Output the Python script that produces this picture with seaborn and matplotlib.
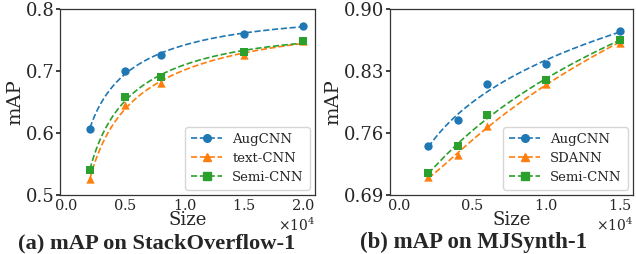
import numpy as np
import pandas as pd
import matplotlib
matplotlib.use('Agg')
import matplotlib.pyplot as plt
import seaborn as sns
from matplotlib.lines import Line2D
from matplotlib.ticker import ScalarFormatter

# (a) StackOverflow-1
so_size = [2000, 5000, 8000, 15000, 20000]
so_aug = [0.607, 0.700, 0.725, 0.760, 0.773]
so_text = [0.525, 0.645, 0.680, 0.725, 0.748]
so_semi = [0.540, 0.658, 0.690, 0.730, 0.748]

# (b) MJSynth-1
mj_size = [2000, 4000, 6000, 10000, 15000]
mj_aug = [0.745, 0.775, 0.815, 0.838, 0.875]
mj_sdann = [0.710, 0.735, 0.768, 0.815, 0.862]
mj_semi = [0.715, 0.745, 0.780, 0.820, 0.865]

colors = ['#1f77b4', '#ff7f0e', '#2ca02c']
markers = ['o', '^', 's']

sns.set_theme(style='white')
plt.rcParams['font.family'] = ['DejaVu Serif']
plt.rcParams['mathtext.fontset'] = 'dejavuserif'


def draw(ax, sizes, series, names, xlim, ylim, yticks, title, tx, tsize):
    for (vals, name, c, m) in zip(series, names, colors, markers):
        x = np.array(sizes, dtype=float)
        # smooth trend through the points (quadratic in log size)
        coef = np.polyfit(np.log(x), vals, 2)
        xs = np.linspace(x.min(), x.max(), 200)
        fit = pd.DataFrame({'x': xs, 'y': np.polyval(coef, np.log(xs))})
        sns.lineplot(data=fit, x='x', y='y', ax=ax, color=c, lw=1.2,
                     linestyle='--')
        pts = pd.DataFrame({'x': sizes, 'y': vals})
        sns.scatterplot(data=pts, x='x', y='y', ax=ax, color=c, marker=m,
                        s=36, edgecolor=c, linewidth=0, zorder=3)
    ax.set_xlim(*xlim)
    ax.set_ylim(*ylim)
    ax.set_yticks(yticks)
    ax.set_xlabel('Size', fontsize=13, labelpad=-1)
    ax.set_ylabel('mAP', fontsize=14, labelpad=1)
    ax.tick_params(axis='y', labelsize=13, length=3, left=True, pad=1)
    ax.tick_params(axis='x', labelsize=10.5, length=0, bottom=True, pad=2)
    fmt = ScalarFormatter(useMathText=True)
    fmt.set_powerlimits((0, 0))
    ax.xaxis.set_major_formatter(fmt)
    ax.xaxis.get_offset_text().set_fontsize(10)
    for sp in ax.spines.values():
        sp.set_color('#333333')
        sp.set_linewidth(0.9)
    handles = [Line2D([], [], color=c, marker=m, linestyle='--',
                      lw=1.2, markersize=5.5) for c, m in zip(colors, markers)]
    ax.legend(handles, names, loc='lower right', fontsize=9.5,
              frameon=True, edgecolor='#cccccc', fancybox=True,
              handlelength=2.3, borderpad=0.45, labelspacing=0.45,
              borderaxespad=0.4)
    ax.figure.text(tx, 0.022, title, ha='center', va='baseline',
                   fontsize=tsize, fontweight='bold',
                   family=['Liberation Serif', 'DejaVu Serif'])


fig = plt.figure(figsize=(6.36, 2.54), dpi=100)
ax1 = fig.add_axes([0.0943, 0.2323, 0.4009, 0.7323])
ax2 = fig.add_axes([0.6132, 0.2323, 0.3821, 0.7323])

draw(ax1, so_size, [so_aug, so_text, so_semi],
     ['AugCNN', 'text-CNN', 'Semi-CNN'],
     (-530, 21000), (0.5, 0.8), [0.5, 0.6, 0.7, 0.8],
     '(a) mAP on StackOverflow-1', 0.247, 16.2)
draw(ax2, mj_size, [mj_aug, mj_sdann, mj_semi],
     ['AugCNN', 'SDANN', 'Semi-CNN'],
     (-600, 15900), (0.69, 0.90), [0.69, 0.76, 0.83, 0.90],
     '(b) mAP on MJSynth-1', 0.744, 16.5)

fig.savefig('out.png', dpi=100)
